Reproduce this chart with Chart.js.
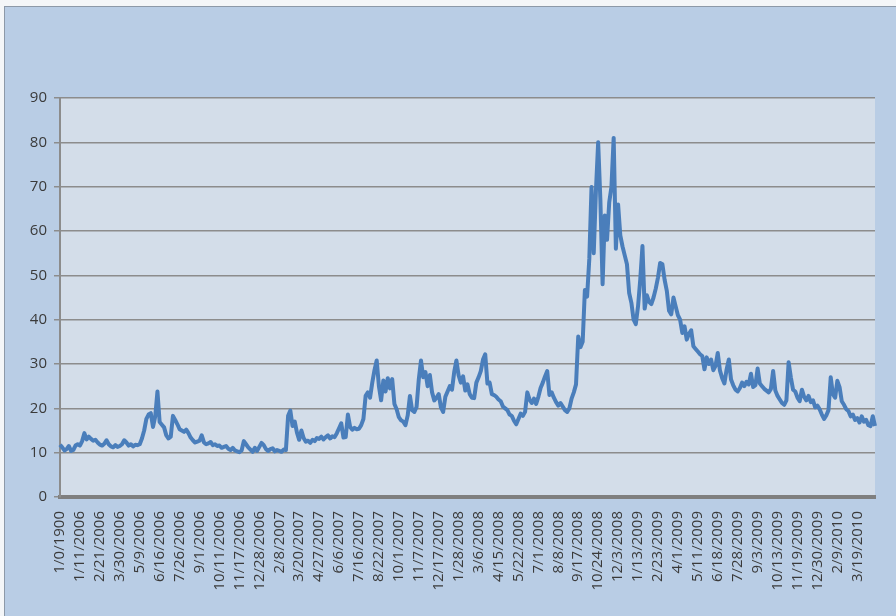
<!DOCTYPE html>
<html><head><meta charset="utf-8">
<script src="https://cdn.jsdelivr.net/npm/chart.js@4"></script>
<style>
html,body{margin:0;padding:0;background:#f4f6f8;width:896px;height:616px;overflow:hidden}
#frame{position:absolute;left:4px;top:6px;width:900px;height:620px;background:#b9cde5;border:1.5px solid #8d99a8;box-sizing:border-box}
#wrap{position:absolute;left:0;top:0;width:896px;height:616px}
</style></head><body>
<div id="frame"></div>
<div id="wrap"><canvas id="c" width="896" height="616"></canvas></div>
<script>
// Tick labels (one every 9 samples; each sample ~3 trading days)
const tickLabels = ["1/0/1900","1/11/2006","2/21/2006","3/30/2006","5/9/2006","6/16/2006","7/26/2006","9/1/2006","10/11/2006","11/17/2006","12/28/2006","2/8/2007","3/20/2007","4/27/2007","6/6/2007","7/16/2007","8/22/2007","10/1/2007","11/7/2007","12/17/2007","1/28/2008","3/6/2008","4/15/2008","5/22/2008","7/1/2008","8/8/2008","9/17/2008","10/24/2008","12/3/2008","1/13/2009","2/23/2009","4/1/2009","5/11/2009","6/18/2009","7/28/2009","9/3/2009","10/13/2009","11/19/2009","12/30/2009","2/9/2010","3/19/2010"];

// Series values
const vixA = [ // 1/0/1900 .. 12/28/2006
11.8,11.2,10.5,10.8,11.5,10.4,10.6,11.6,11.9,
11.6,12.6,14.4,13.0,13.6,13.1,12.7,12.9,12.3,
11.8,11.6,12.0,12.8,11.9,11.4,11.2,11.7,11.3,
11.5,11.9,12.8,12.3,11.6,11.9,11.4,11.8,11.7,
11.9,13.2,15.0,17.6,18.6,18.9,15.8,18.2,23.8,
16.9,16.3,15.7,13.9,13.2,13.6,18.3,17.4,16.4,
15.3,15.0,14.7,15.2,14.4,13.4,12.8,12.3,12.5,
12.7,13.9,12.3,11.9,12.1,12.4,11.7,11.9,11.5,
11.6,11.1,11.3,11.5,10.9,10.6,11.1,10.5,10.3,
10.1,10.5,12.6,11.9,11.2,10.7,10.2,11.1,10.4,
11.3,12.2,11.7,10.8,10.4,10.8,11.0,10.3,10.6];
const vixB = [ // 2/8/2007 .. 12/17/2007
10.4,10.2,10.7,10.6,18.3,19.5,16.0,17.0,14.5,
12.9,15.0,13.3,12.5,12.7,12.2,12.9,12.6,13.3,
13.1,13.6,13.0,13.5,13.9,13.2,13.7,13.5,14.4,
15.5,16.6,13.4,13.5,18.6,15.8,15.2,15.6,15.3,
15.4,16.2,17.6,22.8,23.6,22.4,25.8,28.6,30.8,
25.0,21.8,26.3,23.8,26.8,24.5,26.6,21.0,19.8,
18.0,17.3,17.0,16.2,18.4,22.8,19.6,19.2,20.3,
26.5,30.8,27.0,28.2,25.0,27.5,23.6,21.8,22.4,
23.2,20.2,19.2,22.6,23.8,25.0,24.2,28.2,30.8];
const vixC = [ // 1/28/2008 .. 12/3/2008
27.4,25.8,27.2,24.0,25.4,23.2,22.4,22.3,25.8,
27.0,28.4,31.0,32.2,25.6,25.8,23.2,23.0,22.6,
22.0,21.6,20.4,20.0,19.6,18.6,18.3,17.2,16.4,
17.6,18.8,18.3,19.2,23.6,22.0,21.2,22.2,21.0,
22.6,24.6,25.8,27.2,28.4,23.0,23.6,22.4,21.4,
20.6,21.2,20.4,19.6,19.2,20.0,22.2,23.6,25.4,
36.2,33.8,35.0,46.7,45.2,53.7,69.9,55.0,69.2,
80.0,67.0,48.0,63.5,58.0,66.5,70.0,81.0,56.0,
66.0,59.0,56.5,54.5,52.5,46.0,43.8,40.0,39.0];
const vixD = [ // 1/13/2009 .. 11/19/2009
43.0,49.0,56.6,42.5,45.5,44.0,43.5,45.0,47.0,
49.5,52.8,52.5,49.0,46.5,42.0,41.2,45.0,43.0,
41.0,40.0,37.0,38.5,35.5,36.8,37.6,34.0,33.4,
32.8,32.2,31.8,28.8,31.5,30.0,31.0,28.6,29.6,
32.5,28.5,26.8,25.6,28.8,31.0,26.5,25.2,24.2,
23.8,24.6,25.8,25.0,26.0,25.4,27.8,24.8,25.2,
29.0,25.6,25.0,24.4,24.0,23.6,24.4,28.4,24.0,
22.8,22.0,21.2,20.8,21.8,30.4,27.0,24.2,23.8,
22.4,21.6,24.2,22.6,21.8,22.8,21.4,21.8,20.2];
const vixE = [ // 12/30/2009 .. end
20.6,19.8,18.6,17.6,18.4,19.6,27.0,23.2,22.4,
26.2,24.8,21.6,20.8,19.8,19.4,18.2,18.6,17.4,
17.8,16.8,18.2,17.0,17.4,16.2,16.0,18.2,16.0];
const yTicks = [0,10,20,30,40,50,60,70,80,90];
const labelEvery = 9;

const values = [].concat(vixA, vixB, vixC, vixD, vixE);
const labels = values.map((v, i) => (i % labelEvery === 0 && tickLabels[i / labelEvery] !== undefined) ? tickLabels[i / labelEvery] : '');

const plotBg = {
  id: 'plotBg',
  beforeDraw(chart) {
    const {ctx, chartArea: a} = chart;
    ctx.save();
    ctx.fillStyle = '#d3dde9';
    ctx.fillRect(a.left, a.top, a.right - a.left, a.bottom - a.top);
    ctx.restore();
  }
};

const fontFam = '"Open Sans", "Liberation Sans", sans-serif';

new Chart(document.getElementById('c'), {
  type: 'line',
  data: {
    labels: labels,
    datasets: [{
      data: values,
      borderColor: '#4a7ebb',
      borderWidth: 4,
      pointRadius: 0,
      tension: 0,
      fill: false,
      borderJoinStyle: 'round'
    }]
  },
  options: {
    responsive: false,
    animation: false,
    layout: {padding: {top: 98, right: 21, left: 0, bottom: 0}},
    plugins: {legend: {display: false}, tooltip: {enabled: false}},
    scales: {
      x: {
        type: 'category',
        offset: false,
        grid: {display: false, drawTicks: false},
        border: {display: true, color: '#7f7f7f', width: 4},
        ticks: {
          autoSkip: false, maxRotation: 90, minRotation: 90, padding: 14,
          color: '#3a3a3a', font: {family: fontFam, size: 15}
        },
        afterFit(s) { s.height = 119; s.paddingLeft = 0; s.paddingRight = 0; }
      },
      y: {
        min: yTicks[0], max: yTicks[yTicks.length - 1],
        afterBuildTicks(s) { s.ticks = yTicks.map(v => ({value: v})); },
        grid: {color: '#8c8c8c', lineWidth: 1.5, tickLength: 6, drawTicks: true},
        border: {display: true, color: '#8c8c8c', width: 2},
        ticks: {padding: 7, color: '#3a3a3a', font: {family: fontFam, size: 15}},
        afterFit(s) { s.width = 60; s.paddingTop = 0; s.paddingBottom = 0; }
      }
    }
  },
  plugins: [plotBg]
});
</script>
</body></html>
